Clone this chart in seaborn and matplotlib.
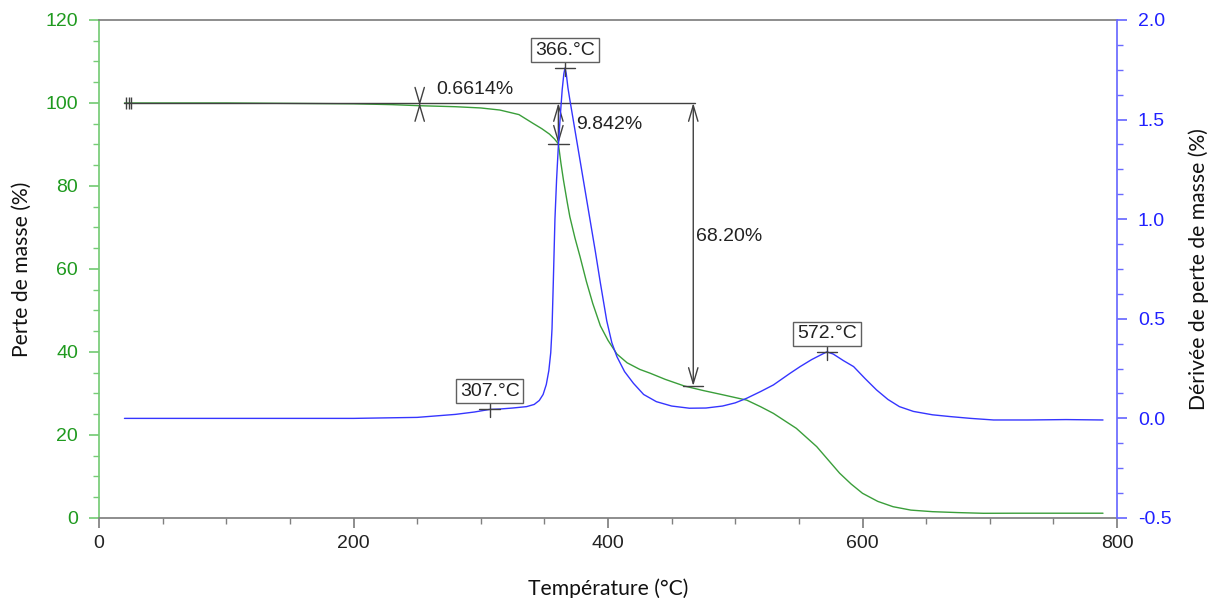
import pandas as pd
import seaborn as sns
import matplotlib.pyplot as plt
from matplotlib.ticker import MultipleLocator

# TGA curve (mass, %)
tga_temp = [20, 60, 100, 150, 200, 230, 252, 280, 300, 315, 330, 341, 348, 354, 358, 361,
            363, 365, 368, 370, 374, 378, 383, 388, 394, 400, 407, 415, 425, 433, 445,
            460, 475, 490, 509, 520, 530, 538, 548, 556, 564, 573, 582, 591, 600, 612,
            624, 638, 655, 675, 695, 720, 760, 789]
tga_mass = [100.0, 100.0, 100.0, 99.9, 99.8, 99.6, 99.34, 99.1, 98.8, 98.3, 97.2, 95.1, 93.8,
            92.5, 91.3, 90.16, 85.5, 81.4, 76.0, 72.6, 67.5, 63.0, 57.0, 51.7, 46.3, 42.8,
            39.5, 37.4, 35.8, 34.9, 33.4, 31.8, 30.7, 29.7, 28.4, 26.8, 25.2, 23.6, 21.6,
            19.4, 17.2, 14.0, 10.8, 8.2, 5.95, 4.0, 2.72, 1.9, 1.52, 1.3, 1.13, 1.15, 1.15, 1.15]

# DTG curve (derivative, %)
dtg_temp = [20, 60, 100, 150, 200, 250, 280, 295, 307, 315, 325, 336, 342, 346, 349, 351.5,
            353.5, 355, 356, 357, 358.3, 359.6, 361, 362.5, 364, 365.3, 366.2, 367.2, 368.5,
            370, 375, 380, 385, 390, 394, 399, 403, 407, 413, 420, 428, 438, 450, 464, 477,
            490, 500, 509, 520, 530, 543, 551, 560, 567, 572, 577, 585, 593, 602, 611, 620,
            629, 640, 655, 669, 685, 703, 730, 760, 789]
dtg_val = [0.0, 0.0, 0.0, 0.0, 0.0, 0.005, 0.02, 0.032, 0.045, 0.047, 0.052, 0.059, 0.07,
           0.09, 0.12, 0.17, 0.24, 0.33, 0.45, 0.68, 1.0, 1.2, 1.37, 1.52, 1.65, 1.73, 1.759,
           1.73, 1.66, 1.6, 1.41, 1.22, 1.03, 0.84, 0.68, 0.49, 0.38, 0.31, 0.235, 0.176,
           0.12, 0.084, 0.062, 0.051, 0.052, 0.062, 0.078, 0.101, 0.135, 0.168, 0.226, 0.26,
           0.295, 0.318, 0.334, 0.323, 0.29, 0.26, 0.2, 0.143, 0.095, 0.059, 0.035, 0.018,
           0.009, 0.0, -0.008, -0.008, -0.006, -0.008]

# annotations
peak_temps = [307, 366, 572]
peak_vals = [0.047, 1.759, 0.334]
peak_labels = ["307.°C", "366.°C", "572.°C"]
step_temps = [252, 361, 467]
step_losses = [0.6614, 9.842, 68.20]
step_labels = ["0.6614%", "9.842%", "68.20%"]
start_temp = 20
end_line = 468

GREEN_LINE = "#3a9e3a"
GREEN_TXT = "#1f9a1f"
BLUE_LINE = "#3535ff"
BLUE_TXT = "#2020ff"
DARK = "#404040"

tga_df = pd.DataFrame({"temp": tga_temp, "mass": tga_mass})
dtg_df = pd.DataFrame({"temp": dtg_temp, "dtg": dtg_val})

sns.set_theme(style="white")
plt.rcParams["font.family"] = ["Liberation Sans", "DejaVu Sans"]

fig = plt.figure(figsize=(12.09, 5.98), dpi=100)
ax = fig.add_axes([0.0819, 0.1338, 0.8420, 0.8328])
ax2 = ax.twinx()

sns.lineplot(data=tga_df, x="temp", y="mass", ax=ax, color=GREEN_LINE, lw=1.0,
             sort=False, estimator=None, zorder=3)
sns.lineplot(data=dtg_df, x="temp", y="dtg", ax=ax2, color=BLUE_LINE, lw=1.0,
             sort=False, estimator=None, zorder=3)

ax.set_xlim(0, 800)
ax.set_ylim(0, 120)
ax2.set_ylim(-0.5, 2.0)

ax.xaxis.set_major_locator(MultipleLocator(200))
ax.xaxis.set_minor_locator(MultipleLocator(50))
ax.yaxis.set_major_locator(MultipleLocator(20))
ax.yaxis.set_minor_locator(MultipleLocator(5))
ax2.yaxis.set_major_locator(MultipleLocator(0.5))
ax2.yaxis.set_minor_locator(MultipleLocator(0.125))
ax2.yaxis.set_major_formatter(plt.FormatStrFormatter("%.1f"))

for sp in ["top", "bottom"]:
    ax.spines[sp].set_color("#808080")
    ax2.spines[sp].set_visible(False)
ax.spines["left"].set_color("#77cc77")
ax.spines["right"].set_visible(False)
ax2.spines["left"].set_visible(False)
ax2.spines["right"].set_color("#6a6aff")

tick_size = 14
ax.tick_params(axis="x", which="major", direction="out", length=7, color="#808080",
               labelsize=tick_size, labelcolor="#222222", bottom=True, pad=5)
ax.tick_params(axis="x", which="minor", direction="out", length=4, color="#808080",
               bottom=True)
ax.tick_params(axis="y", which="major", direction="out", length=7, color="#77cc77",
               labelsize=tick_size, labelcolor=GREEN_TXT, left=True, pad=8)
ax.tick_params(axis="y", which="minor", direction="out", length=4, color="#77cc77", left=True)
ax2.tick_params(axis="y", which="major", direction="out", length=7, color="#6a6aff",
                labelsize=tick_size, labelcolor=BLUE_TXT, right=True, pad=8)
ax2.tick_params(axis="y", which="minor", direction="out", length=4, color="#6a6aff", right=True)

lab_font = ["Lato", "DejaVu Sans"]
ax.set_xlabel("Température (°C)", fontsize=15.2, family=lab_font, labelpad=19, color="#111111")
ax.set_ylabel("Perte de masse (%)", fontsize=15.2, family=lab_font, labelpad=10, color="#111111")
ax2.set_ylabel("Dérivée de perte de masse (%)", fontsize=15.2, family=lab_font, labelpad=12,
               color="#111111")

# baseline of the step analysis
ax.plot([start_temp, end_line], [100, 100], color=DARK, lw=1.0, zorder=4)
ax.plot([start_temp + 1.5, start_temp + 3.5, start_temp + 5.5], [100, 100, 100], ls="none",
        marker="|", ms=9, mew=1.0, color=DARK, zorder=4)

arrow = dict(arrowstyle="<->,head_length=0.95,head_width=0.28", color=DARK, lw=1.0,
             shrinkA=0, shrinkB=0)
for t, loss in zip(step_temps, step_losses):
    ax.annotate("", xy=(t, 100 - loss), xytext=(t, 100), arrowprops=arrow, zorder=5)
    if loss > 1:
        ax.plot([t - 8, t + 8], [100 - loss, 100 - loss], color=DARK, lw=1.0, zorder=5)
txt_size = 14
ax.text(step_temps[0] + 13, 103.2, step_labels[0], fontsize=txt_size, color="#222222",
        va="center")
ax.text(step_temps[1] + 14, 94.8, step_labels[1], fontsize=txt_size, color="#222222",
        va="center")
ax.text(step_temps[2] + 2.5, 67.9, step_labels[2], fontsize=txt_size, color="#222222",
        va="center")

# peak markers on derivative curve
for t, v, lab in zip(peak_temps, peak_vals, peak_labels):
    ax2.plot([t - 8, t + 8], [v, v], color=DARK, lw=1.0, zorder=5)
    ax2.plot([t, t], [v - 0.04, v + 0.04], color=DARK, lw=1.0, zorder=5)
    ax2.text(t, v + 0.09, lab, fontsize=txt_size, color="#222222", ha="center", va="center",
             bbox=dict(boxstyle="square,pad=0.2", fc="white", ec="#606060", lw=1.0), zorder=6)

fig.savefig("out.png", dpi=100)
